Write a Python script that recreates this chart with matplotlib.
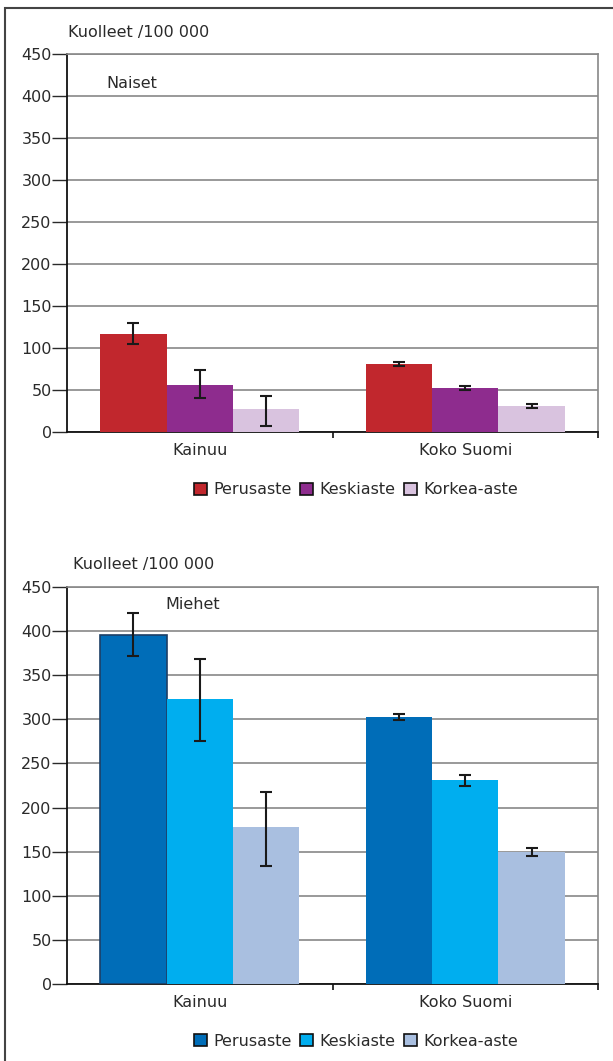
import matplotlib.pyplot as plt
import numpy as np
from matplotlib.patches import Rectangle, Patch

regions = ['Kainuu', 'Koko Suomi']
levels = ['Perusaste', 'Keskiaste', 'Korkea-aste']

# naiset, kuolleet /100 000 (value, lower, upper)
women = {'Perusaste': [117, 81], 'Keskiaste': [56, 52], 'Korkea-aste': [27, 31]}
women_lo = {'Perusaste': [105, 79], 'Keskiaste': [40, 50], 'Korkea-aste': [7.5, 28]}
women_hi = {'Perusaste': [130, 83], 'Keskiaste': [74, 55], 'Korkea-aste': [43, 33]}

# miehet
men = {'Perusaste': [396, 303], 'Keskiaste': [323, 231], 'Korkea-aste': [178, 150]}
men_lo = {'Perusaste': [372, 299], 'Keskiaste': [275, 224], 'Korkea-aste': [134, 145]}
men_hi = {'Perusaste': [420, 306], 'Keskiaste': [368, 237], 'Korkea-aste': [218, 154]}

women_colors = ['#c1272d', '#8e2c8e', '#d9c3df']
men_colors = ['#006db8', '#00aeef', '#a9bfe0']

txt = '#2a2a2a'
plt.rcParams['font.family'] = ['DejaVu Sans']

W, H = 613, 1061
fig = plt.figure(figsize=(W / 100, H / 100), dpi=100)

# frame around the whole picture (right/bottom cut off)
fig.patches.append(Rectangle((4.5 / W, -0.1), 1.2, (H - 8) / H + 0.1,
                             transform=fig.transFigure, fill=False,
                             edgecolor='#444444', linewidth=1.5))


def draw(ax, vals, lo, hi, colors, label, label_pos, legend_y, edge_first=False):
    x = np.arange(len(regions))
    w = 0.25
    for i, lev in enumerate(levels):
        pos = x + (i - 1) * w
        v = np.array(vals[lev])
        bars = ax.bar(pos, v, w, color=colors[i], zorder=3, linewidth=0)
        if edge_first and i == 0:
            bars[0].set_edgecolor('#1d3f66')
            bars[0].set_linewidth(1.2)
        err = [v - np.array(lo[lev]), np.array(hi[lev]) - v]
        ax.errorbar(pos, v, yerr=err, fmt='none', ecolor='#1a1a1a',
                    elinewidth=1.5, capsize=4, capthick=1.5, zorder=4)
    ax.set_xlim(-0.5, 1.5)
    ax.set_ylim(0, 450)
    ax.set_yticks(np.arange(0, 451, 50))
    ax.yaxis.grid(True, color='#888888', linewidth=1.2, zorder=0)
    ax.set_axisbelow(True)
    ax.tick_params(axis='y', length=11, width=1, pad=0, labelsize=11.5,
                   colors=txt, direction='out')
    ax.set_xticks(x)
    ax.set_xticklabels(regions)
    ax.tick_params(axis='x', length=0, pad=8, labelsize=11.5, colors=txt)
    ax.set_xticks([0.5, 1.5], minor=True)
    ax.tick_params(axis='x', which='minor', length=4, width=1.2, color='#111111')
    for s in ['left', 'bottom']:
        ax.spines[s].set_color('#111111')
        ax.spines[s].set_linewidth(1.3)
    for s in ['top', 'right']:
        ax.spines[s].set_color('#888888')
        ax.spines[s].set_linewidth(1.2)
    ax.text(label_pos[0], label_pos[1], label, transform=ax.transAxes,
            fontsize=11.5, color=txt, va='center', ha='left')
    handles = [Patch(facecolor=c, edgecolor='#111111', linewidth=1.2) for c in colors]
    leg = fig.legend(handles, levels, loc='center',
                     bbox_to_anchor=(356 / W, 1 - legend_y / H),
                     ncol=3, frameon=False, fontsize=11.5, handlelength=0.85,
                     handleheight=0.85, handletextpad=0.4, columnspacing=0.5,
                     borderaxespad=0)
    for tt in leg.get_texts():
        tt.set_color(txt)


ax1 = fig.add_axes([67 / W, (H - 432) / H, 531 / W, 378 / H])
draw(ax1, women, women_lo, women_hi, women_colors, 'Naiset', (0.075, 0.921), 490)
fig.text(68 / W, 1 - 33 / H, 'Kuolleet /100 000', fontsize=11.5, color=txt,
         ha='left', va='center')

ax2 = fig.add_axes([67 / W, (H - 984) / H, 531 / W, 397 / H])
draw(ax2, men, men_lo, men_hi, men_colors, 'Miehet', (0.186, 0.957), 1041,
     edge_first=True)
fig.text(73 / W, 1 - 564 / H, 'Kuolleet /100 000', fontsize=11.5, color=txt,
         ha='left', va='center')

fig.savefig('out.png', dpi=100)
